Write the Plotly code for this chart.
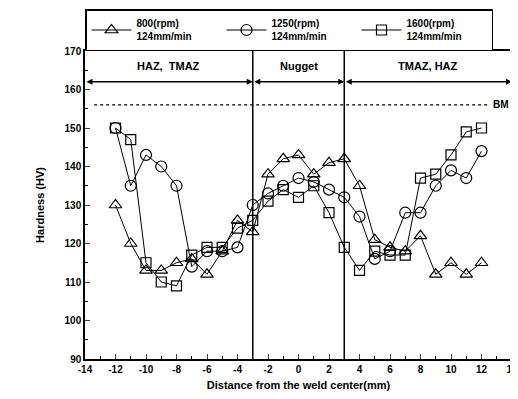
import plotly.graph_objects as go

x_pos = [-12, -11, -10, -9, -8, -7, -6, -5, -4, -3, -2, -1, 0, 1, 2, 3, 4, 5, 6, 7, 8, 9, 10, 11, 12]
hv_800 = [130, 120, 113, 113, 115, 116, 112, 118, 126, 123, 138, 142, 143, 138, 141, 142, 135, 121, 119, 118, 122, 112, 115, 112, 115]
hv_1250 = [150, 135, 143, 140, 135, 114, 118, 118, 119, 130, 133, 135, 137, 136, 134, 132, 127, 116, 118, 128, 128, 135, 139, 137, 144]
hv_1600 = [150, 147, 115, 110, 109, 117, 119, 119, 124, 126, 131, 134, 132, 135, 128, 119, 113, 118, 117, 117, 137, 138, 143, 149, 150]

series_names = ["800(rpm)<br>124mm/min", "1250(rpm)<br>124mm/min", "1600(rpm)<br>124mm/min"]
zone_labels = ["HAZ,  TMAZ", "Nugget", "TMAZ, HAZ"]
zone_centers = [-8.5, 0, 8.5]
zone_bounds = [-14, -3, 3, 14]
bm_value = 156
x_ticks = list(range(-14, 15, 2))
x_tick_text = [str(v) for v in x_ticks]
y_ticks = list(range(90, 171, 10))

FONT = "Liberation Sans"

fig = go.Figure()
symbols = ["triangle-up-open", "circle-open", "square-open"]
sizes = [11, 11, 10]
for name, vals, sym, sz in zip(series_names, [hv_800, hv_1250, hv_1600], symbols, sizes):
    fig.add_trace(go.Scatter(
        x=x_pos, y=vals, name=name, mode="lines+markers",
        line=dict(color="black", width=1),
        marker=dict(symbol=sym, size=sz, color="black", line=dict(width=1.2, color="black")),
    ))

# zone separators
for xb in zone_bounds[1:-1]:
    fig.add_shape(type="line", x0=xb, x1=xb, y0=90, y1=170, xref="x", yref="y",
                  line=dict(color="black", width=1.5))

# arrows
arrow_y = 162
for a, b in zip(zone_bounds[:-1], zone_bounds[1:]):
    fig.add_annotation(x=b, y=arrow_y, ax=a, ay=arrow_y, xref="x", yref="y", axref="x", ayref="y",
                       showarrow=True, arrowhead=2, arrowside="end+start", arrowsize=0.8,
                       arrowwidth=1.5, arrowcolor="black", text="")

for lbl, xc in zip(zone_labels, zone_centers):
    fig.add_annotation(x=xc, y=166, xref="x", yref="y", text=lbl, showarrow=False,
                       font=dict(family=FONT, size=11, color="black", weight="bold"))

# BM line
fig.add_shape(type="line", x0=-13.4, x1=12.4, y0=bm_value, y1=bm_value, xref="x", yref="y",
              line=dict(color="black", width=1.2, dash="dot"))
fig.add_annotation(x=13.3, y=bm_value, xref="x", yref="y", text="BM", showarrow=False,
                   font=dict(family=FONT, size=10, color="black", weight="bold"))

axis_font = dict(family=FONT, size=10, color="black", weight="bold")
fig.update_xaxes(range=[-14, 14], tickvals=x_ticks, ticktext=x_tick_text, ticks="inside", ticklen=5,
                 minor=dict(dtick=1, ticks="inside", ticklen=3, tickcolor="black"),
                 showline=True, linecolor="black", linewidth=1.5, mirror=True,
                 showgrid=False, zeroline=False, tickfont=axis_font, automargin=False,
                 title=dict(text="Distance from the weld center(mm)", font=dict(family=FONT, size=11, color="black", weight="bold"), standoff=8))
fig.update_yaxes(range=[90, 170], tickvals=y_ticks, ticks="inside", ticklen=5,
                 minor=dict(dtick=5, ticks="inside", ticklen=3, tickcolor="black"),
                 showline=True, linecolor="black", linewidth=1.5, mirror=True,
                 showgrid=False, zeroline=False, tickfont=axis_font, automargin=False,
                 title=dict(text="Hardness (HV)", font=dict(family=FONT, size=11, color="black", weight="bold"), standoff=18))

fig.update_layout(
    width=518, height=399,
    margin=dict(l=77, r=14, t=43, b=48, autoexpand=False),
    plot_bgcolor="white", paper_bgcolor="white",
    font=dict(family=FONT, color="black"),
    legend=dict(orientation="h", x=0.0, xanchor="left", y=1.0, yanchor="bottom",
                bordercolor="black", borderwidth=1.5, bgcolor="white",
                font=dict(family=FONT, size=10, color="black", weight="bold"),
                itemwidth=40, entrywidth=80, entrywidthmode="pixels", tracegroupgap=0),
)

fig.write_html("out.html")
